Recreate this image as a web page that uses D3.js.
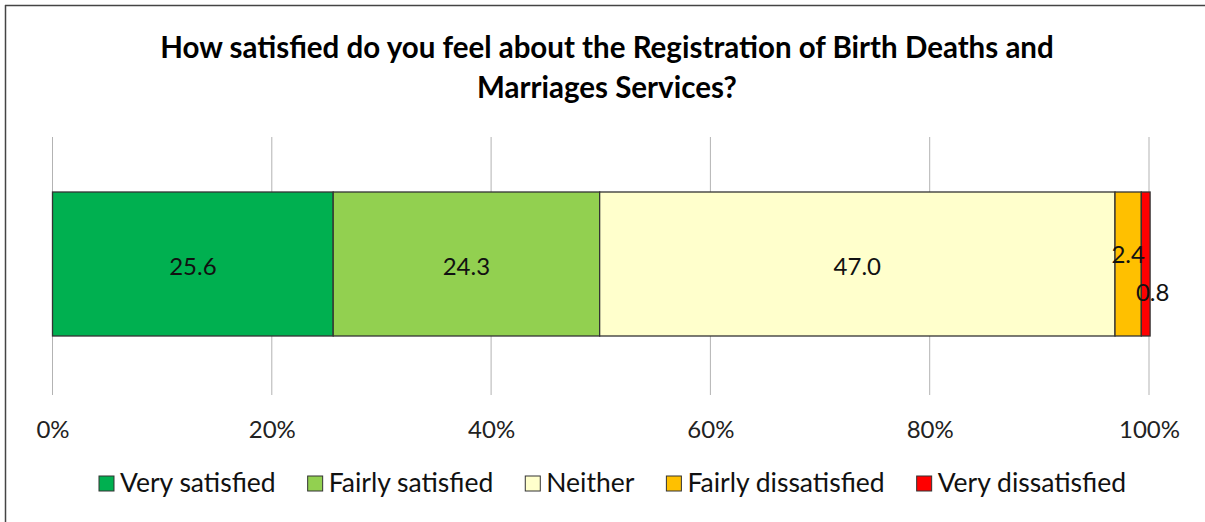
<!DOCTYPE html>
<html>
<head>
<meta charset="utf-8">
<script src="https://cdn.jsdelivr.net/npm/d3@7"></script>
<style>
  body { margin: 0; background: #fff; }
  text { font-family: Lato, "Open Sans", sans-serif; }
</style>
</head>
<body>
<script>
// chart data
const categories = ["Very satisfied", "Fairly satisfied", "Neither", "Fairly dissatisfied", "Very dissatisfied"]
const values = [25.6, 24.3, 47.0, 2.4, 0.8]
const colors = ["#00b050", "#92d050", "#ffffcc", "#ffc000", "#ff0000"]
const ticks = [0, 20, 40, 60, 80, 100]
const titleLines = ["How satisfied do you feel about the Registration of Birth Deaths and", "Marriages Services?"]

let W = 1205, H = 522

let svg = d3.select("body").append("svg")
    .attr("width", W)
    .attr("height", H)

// outer frame (left and top visible)
svg.append("line").attr("x1", 5.5).attr("y1", 5).attr("x2", 5.5).attr("y2", H).attr("stroke", "#444").attr("stroke-width", 1.5)
svg.append("line").attr("x1", 5).attr("y1", 5.5).attr("x2", W).attr("y2", 5.5).attr("stroke", "#444").attr("stroke-width", 1.5)

// title
svg.selectAll(".title")
    .data(titleLines)
    .enter()
    .append("text")
    .attr("class", "title")
    .attr("x", 607)
    .attr("y", function (d, i) { return 58 + i * 40 })
    .attr("text-anchor", "middle")
    .attr("font-size", 29.5)
    .attr("font-weight", "bold")
    .attr("fill", "#000")
    .text(function (d) { return d })

let x = d3.scaleLinear().domain([0, 100]).range([52.5, 1149])
let barTop = 192, barBottom = 336

// gridlines
svg.selectAll(".grid")
    .data(ticks)
    .enter()
    .append("line")
    .attr("x1", function (d) { return x(d) })
    .attr("x2", function (d) { return x(d) })
    .attr("y1", 137)
    .attr("y2", 395)
    .attr("stroke", "#b3b3b3")
    .attr("stroke-width", 1)

// x axis labels
let axis = d3.axisBottom(x).tickValues(ticks).tickFormat(function (d) { return d + "%" }).tickSize(0).tickPadding(0)
let gAxis = svg.append("g").attr("transform", "translate(0,421)").call(axis)
gAxis.select(".domain").remove()
gAxis.selectAll("text").attr("font-size", 24).attr("font-family", "Lato, 'Open Sans', sans-serif").attr("fill", "#222")

// stacked segments
let starts = []
let acc = 0
values.forEach(function (v) { starts.push(acc); acc += v })

svg.selectAll(".seg")
    .data(values)
    .enter()
    .append("rect")
    .attr("class", "seg")
    .attr("x", function (d, i) { return x(starts[i]) })
    .attr("y", barTop)
    .attr("width", function (d, i) { return x(starts[i] + d) - x(starts[i]) })
    .attr("height", barBottom - barTop)
    .attr("fill", function (d, i) { return colors[i] })
    .attr("stroke", "#333")
    .attr("stroke-width", 1.3)

// value labels (small segments nudged like the original)
let labelDx = [0, 0, 0, 0, 7]
let labelDy = [0, 0, 0, -12, 26]
svg.selectAll(".vlab")
    .data(values)
    .enter()
    .append("text")
    .attr("x", function (d, i) { return x(starts[i] + d / 2) + labelDx[i] })
    .attr("y", function (d, i) { return (barTop + barBottom) / 2 + 3 + labelDy[i] })
    .attr("dy", "0.35em")
    .attr("text-anchor", "middle")
    .attr("font-size", 24)
    .attr("fill", "#111")
    .text(function (d) { return d.toFixed(1) })

// legend
let legend = svg.append("g")
let items = legend.selectAll("g")
    .data(categories)
    .enter()
    .append("g")
items.append("rect")
    .attr("width", 15).attr("height", 15)
    .attr("y", 476)
    .attr("fill", function (d, i) { return colors[i] })
    .attr("stroke", "#333")
    .attr("stroke-width", 1)
items.append("text")
    .attr("x", 21)
    .attr("y", 492)
    .attr("font-size", 26.5)
    .attr("fill", "#111")
    .text(function (d) { return d })

let xpos = 0
let positions = []
items.each(function () {
    positions.push(xpos)
    let w = 21 + d3.select(this).select("text").node().getComputedTextLength()
    xpos += w + 32
})
let total = xpos - 32
let startX = (101 + 1124) / 2 - total / 2
items.attr("transform", function (d, i) { return "translate(" + (startX + positions[i]) + ",0)" })
</script>
</body>
</html>
